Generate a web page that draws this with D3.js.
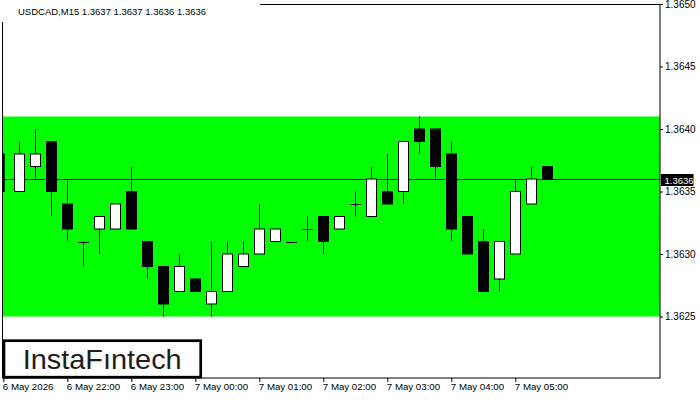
<!DOCTYPE html>
<html>
<head>
<meta charset="utf-8">
<script src="https://cdn.jsdelivr.net/npm/d3@7/dist/d3.min.js"></script>
<style>
  html, body { margin: 0; padding: 0; background: #fff; }
  svg { display: block; }
  text { font-family: "Liberation Sans", Arial, sans-serif; }
</style>
</head>
<body>
<svg id="chart" width="700" height="400"></svg>
<script>
// ---- data ----
const symbolTitle = "USDCAD,M15  1.3637 1.3637 1.3636 1.3636";
const opens  = [1.36380,1.36350,1.36370,1.36390,1.36340,1.36310,1.36320,1.36320,1.36350,1.36310,
                1.36290,1.36270,1.36280,1.36260,1.36270,1.36290,1.36300,1.36310,1.36310,1.36320,
                1.36330,1.36320,1.36340,1.36330,1.36350,1.36350,1.36400,1.36400,1.36380,1.36330,
                1.36310,1.36280,1.36300,1.36340,1.36370];
const highs  = [1.36380,1.36390,1.36400,1.36390,1.36360,1.36310,1.36330,1.36340,1.36370,1.36310,
                1.36290,1.36300,1.36280,1.36310,1.36310,1.36310,1.36340,1.36320,1.36310,1.36330,
                1.36330,1.36330,1.36350,1.36370,1.36380,1.36390,1.36410,1.36400,1.36390,1.36330,
                1.36320,1.36310,1.36360,1.36370,1.36370];
const lows   = [1.36350,1.36350,1.36360,1.36330,1.36310,1.36290,1.36300,1.36320,1.36320,1.36280,
                1.36250,1.36270,1.36270,1.36250,1.36270,1.36290,1.36300,1.36310,1.36310,1.36310,
                1.36300,1.36320,1.36330,1.36330,1.36340,1.36340,1.36380,1.36360,1.36310,1.36300,
                1.36270,1.36270,1.36300,1.36340,1.36360];
const closes = [1.36350,1.36380,1.36380,1.36350,1.36320,1.36310,1.36330,1.36340,1.36320,1.36290,
                1.36260,1.36290,1.36270,1.36270,1.36300,1.36300,1.36320,1.36320,1.36310,1.36320,
                1.36310,1.36330,1.36340,1.36360,1.36340,1.36390,1.36390,1.36370,1.36320,1.36300,
                1.36270,1.36310,1.36350,1.36360,1.36360];
const timeTickIndex  = [0, 4, 8, 12, 16, 20, 24, 28, 32];
const timeTickLabels = ["6 May 2026","6 May 22:00","6 May 23:00","7 May 00:00","7 May 01:00",
                        "7 May 02:00","7 May 03:00","7 May 04:00","7 May 05:00"];
const priceTicks = [1.3625, 1.3630, 1.3635, 1.3640, 1.3645, 1.3650];
const bandLow = 1.3625, bandHigh = 1.3641;
const currentPrice = 1.3636;
const logoText = "InstaF\u0131ntech";

const candles = opens.map((o, i) => ({ i, o, h: highs[i], l: lows[i], c: closes[i] }));

// ---- layout ----
const L = 2.7, R = 660, T = 4, B = 378;
const svg = d3.select("#chart");
const fmt = d3.format(".4f");

const x = d3.scaleLinear().domain([0, 34]).range([3.3, 3.3 + 16 * 34]);
const y = d3.scaleLinear().domain([1.3625, 1.3650]).range([316.5, 4]);

const defs = svg.append("defs");
defs.append("clipPath").attr("id", "plotclip")
  .append("rect").attr("x", L).attr("y", T).attr("width", R - L).attr("height", B - T);
defs.append("clipPath").attr("id", "firstclip")
  .append("rect").attr("x", L).attr("y", T).attr("width", 2).attr("height", B - T);

const plot = svg.append("g").attr("clip-path", "url(#plotclip)");

// green band
plot.append("rect")
  .attr("x", L).attr("width", R - L)
  .attr("y", y(bandHigh)).attr("height", y(bandLow) - y(bandHigh))
  .attr("fill", "#00ff00");

// current price line
plot.append("line")
  .attr("x1", 4).attr("x2", R)
  .attr("y1", Math.round(y(currentPrice)) + 0.5).attr("y2", Math.round(y(currentPrice)) + 0.5)
  .attr("stroke", "#000").attr("stroke-width", 1);

// candles
const hw = 5;
const px = v => Math.round(v) + 0.5;
const cg = plot.append("g").attr("class", "candles");
const cs = cg.selectAll("g").data(candles).join("g")
  .attr("clip-path", d => d.i === 0 ? "url(#firstclip)" : null);
cs.append("line")
  .attr("x1", d => px(x(d.i))).attr("x2", d => px(x(d.i)))
  .attr("y1", d => y(d.h)).attr("y2", d => y(d.l))
  .attr("stroke", "#000").attr("stroke-width", 1);
cs.filter(d => d.o !== d.c).append("rect")
  .attr("x", d => px(x(d.i)) - hw)
  .attr("width", hw * 2)
  .attr("y", d => y(Math.max(d.o, d.c)))
  .attr("height", d => Math.abs(y(d.o) - y(d.c)))
  .attr("fill", d => d.c > d.o ? "#fff" : "#000")
  .attr("stroke", "#000").attr("stroke-width", 1);
cs.filter(d => d.o === d.c).append("line")
  .attr("x1", d => px(x(d.i)) - hw - 0.5).attr("x2", d => px(x(d.i)) + hw + 0.5)
  .attr("y1", d => Math.round(y(d.o)) + 0.5).attr("y2", d => Math.round(y(d.o)) + 0.5)
  .attr("stroke", "#000").attr("stroke-width", 1);

// frame
svg.append("rect")
  .attr("x", 2.5).attr("y", 4.5).attr("width", R - 2.5).attr("height", B - 4.5)
  .attr("fill", "none").attr("stroke", "#000").attr("stroke-width", 1);

// title background + title
svg.append("rect").attr("x", 0).attr("y", 0).attr("width", 260).attr("height", 22).attr("fill", "#fff");
svg.append("text")
  .attr("x", 18).attr("y", 15)
  .attr("font-size", 9.5).attr("fill", "#000")
  .text(symbolTitle);

// price axis
const yAxis = d3.axisRight(y).tickValues(priceTicks).tickSize(3).tickPadding(2)
  .tickFormat(fmt);
const ya = svg.append("g").attr("transform", `translate(${R},0)`).call(yAxis);
ya.select(".domain").remove();
ya.selectAll("line").attr("stroke", "#000");
ya.selectAll("text").attr("font-size", 10).attr("fill", "#000")
  .attr("font-family", "Liberation Sans, Arial, sans-serif");

// current price box
const cy = Math.round(y(currentPrice));
const cur = svg.append("g");
cur.append("rect").attr("x", 661).attr("y", cy - 5).attr("width", 32.5).attr("height", 12).attr("fill", "#000");
cur.append("text").attr("x", 664.5).attr("y", cy + 4.5)
  .attr("font-size", 9.5).attr("fill", "#fff").text(fmt(currentPrice));

// time axis
const xAxis = d3.axisBottom(x).tickValues(timeTickIndex).tickSize(4)
  .tickFormat((d, k) => timeTickLabels[k]);
const xa = svg.append("g").attr("transform", `translate(0,${B})`).call(xAxis);
xa.select(".domain").remove();
xa.selectAll("line").attr("stroke", "#000");
xa.selectAll("text").attr("font-size", 9.7).attr("fill", "#000")
  .attr("text-anchor", "start").attr("dx", -1).attr("dy", "0.55em")
  .attr("font-family", "Liberation Sans, Arial, sans-serif");

// logo box
svg.append("rect")
  .attr("x", 4).attr("y", 340.7).attr("width", 196.7).attr("height", 36.5)
  .attr("fill", "#fff").attr("stroke", "#000").attr("stroke-width", 2.7);
svg.append("text")
  .attr("x", 22.7).attr("y", 369)
  .attr("font-family", "Inter, 'Noto Sans', sans-serif")
  .attr("font-weight", 500).attr("font-size", 27.5).attr("fill", "#1d1d1b")
  .attr("textLength", 159).attr("lengthAdjust", "spacingAndGlyphs")
  .text(logoText);
</script>
</body>
</html>
